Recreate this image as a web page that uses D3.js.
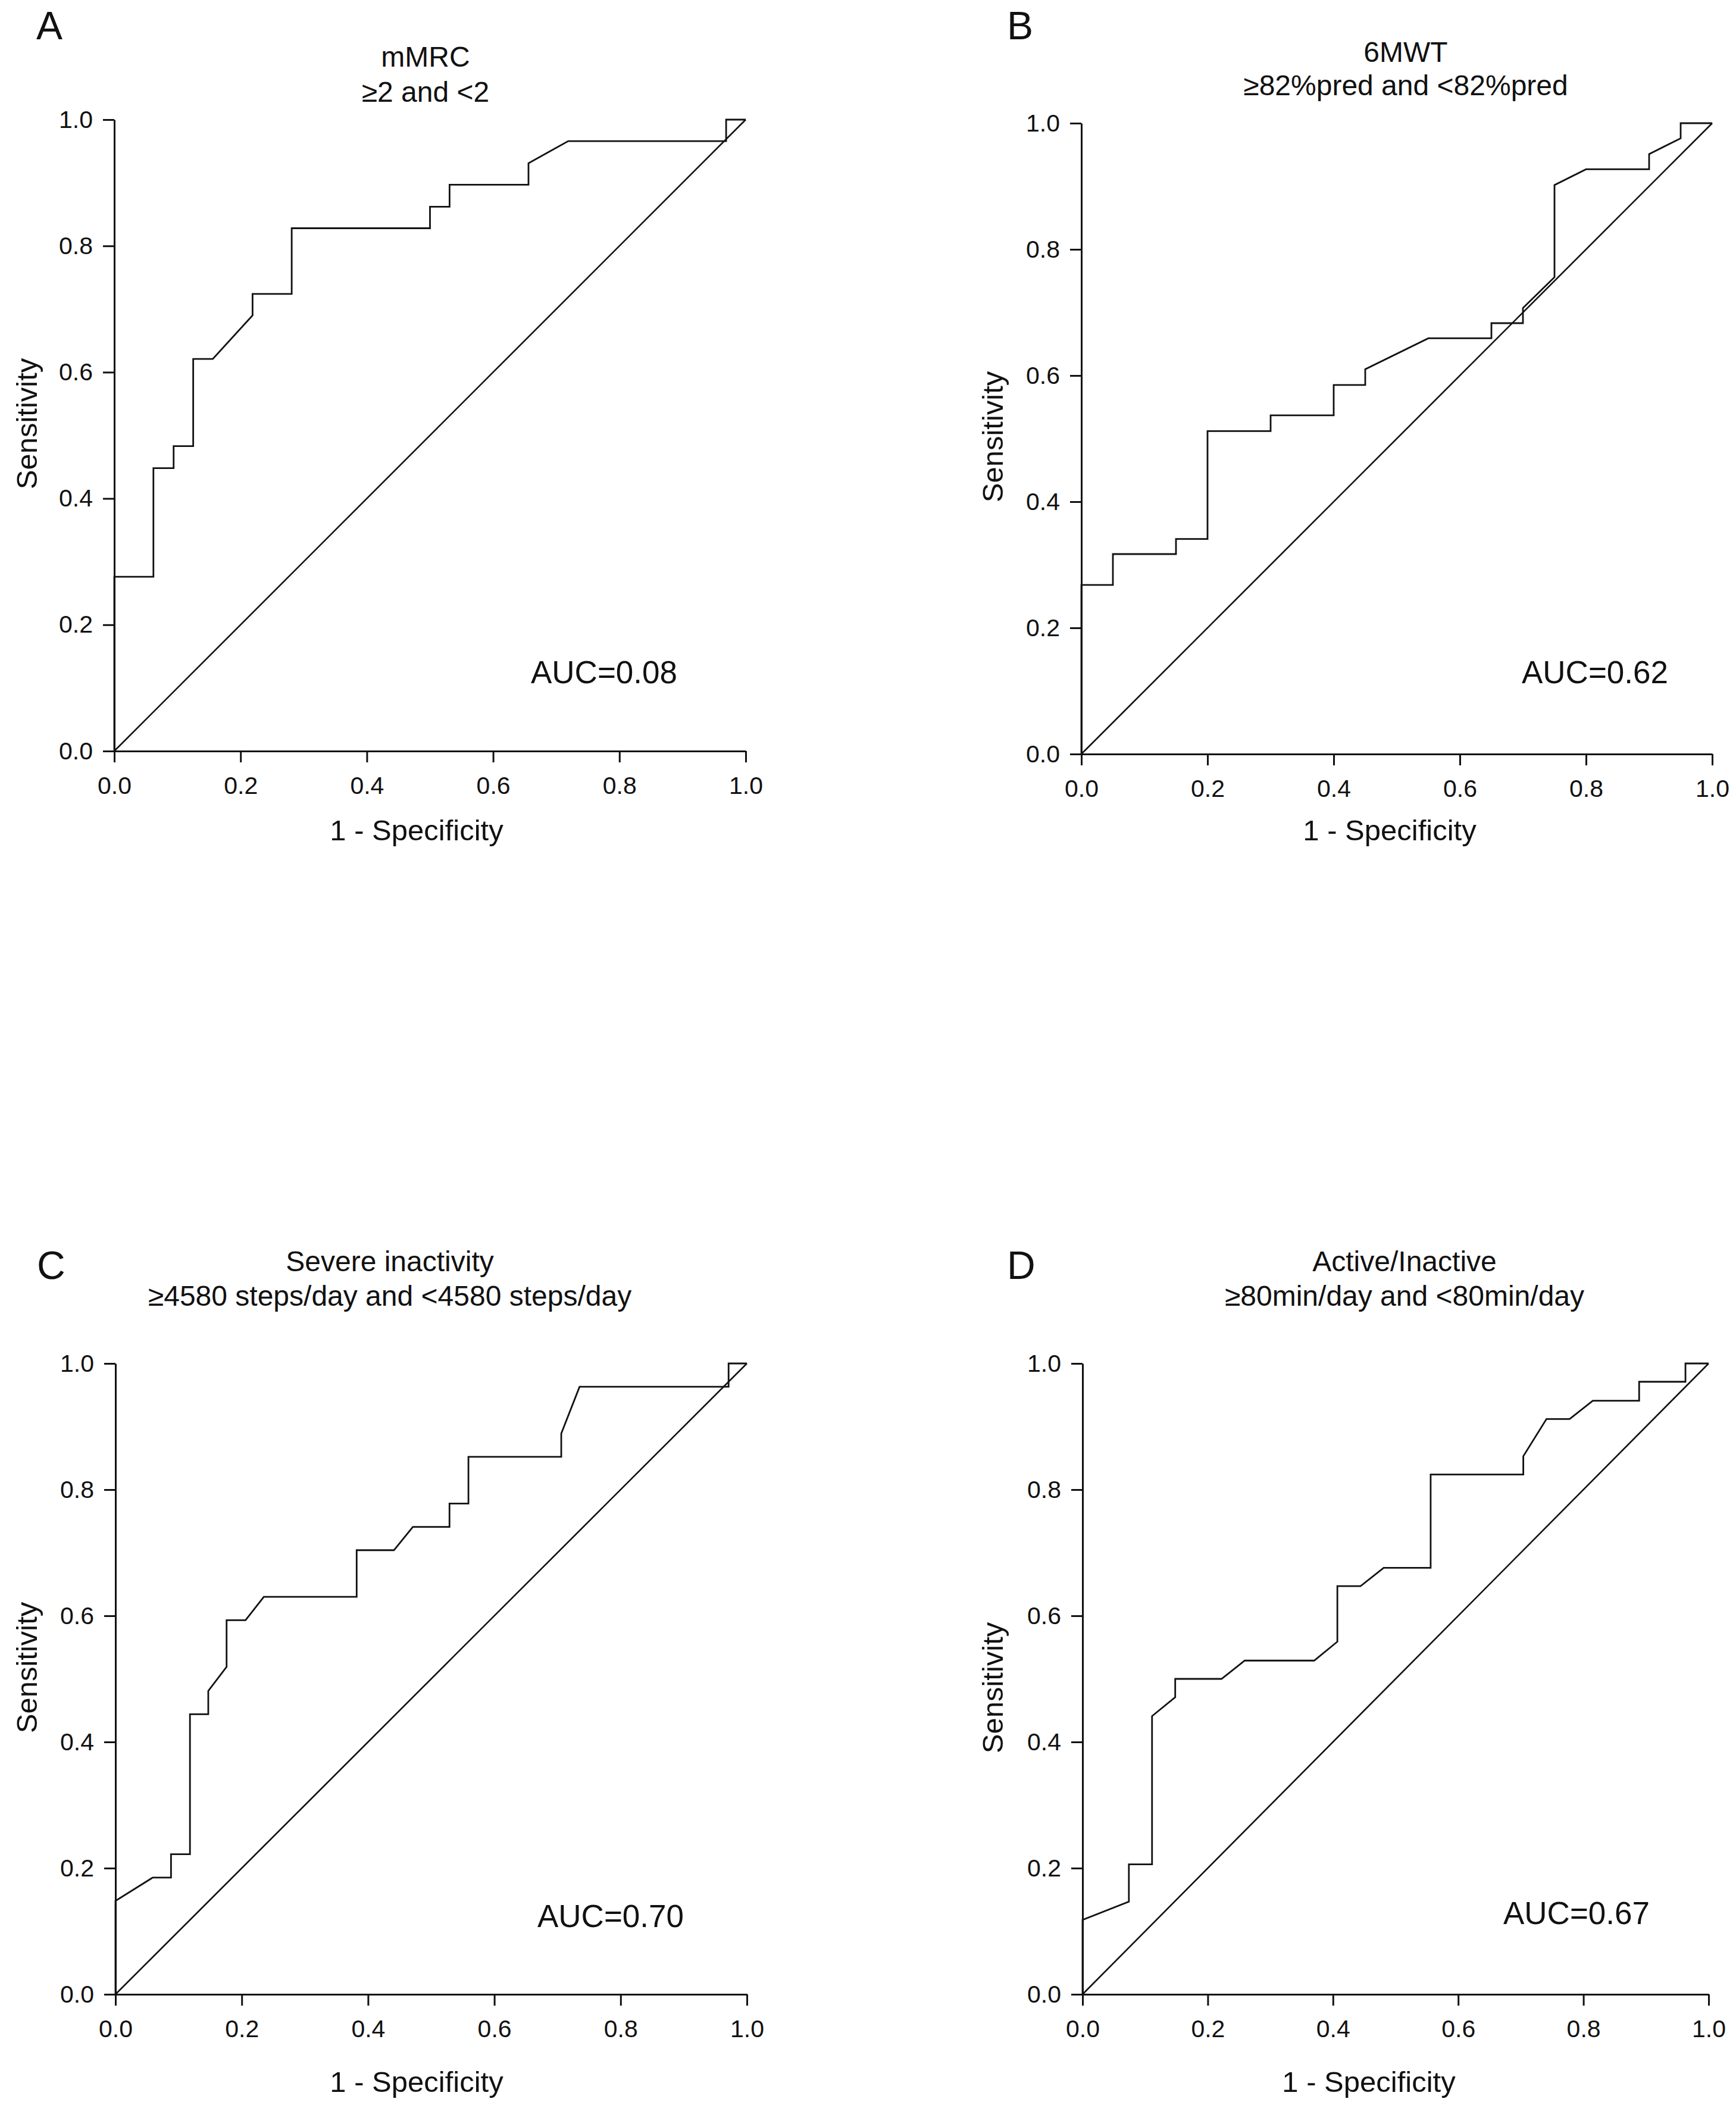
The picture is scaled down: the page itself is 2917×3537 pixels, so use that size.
<!DOCTYPE html>
<html>
<head>
<meta charset="utf-8">
<script src="https://cdn.jsdelivr.net/npm/d3@7"></script>
<style>
  html, body { margin: 0; padding: 0; background: #fff; }
  text { font-family: "Liberation Sans", Arial, sans-serif; fill: #111; }
</style>
</head>
<body>
<div id="chart"></div>
<script>
// ROC curve points (1 - specificity, sensitivity)
const mmrcFpr = [0, 0, 0.062, 0.062, 0.094, 0.094, 0.125, 0.125, 0.156, 0.219, 0.219, 0.281, 0.281, 0.5, 0.5, 0.531, 0.531, 0.656, 0.656, 0.719, 0.969, 0.969, 1];
const mmrcTpr = [0, 0.276, 0.276, 0.448, 0.448, 0.483, 0.483, 0.621, 0.621, 0.690, 0.724, 0.724, 0.828, 0.828, 0.862, 0.862, 0.897, 0.897, 0.931, 0.966, 0.966, 1, 1];

const mwtFpr = [0, 0, 0.05, 0.05, 0.15, 0.15, 0.2, 0.2, 0.3, 0.3, 0.4, 0.4, 0.45, 0.45, 0.55, 0.65, 0.65, 0.7, 0.7, 0.75, 0.75, 0.8, 0.9, 0.9, 0.95, 0.95, 1];
const mwtTpr = [0, 0.268, 0.268, 0.317, 0.317, 0.341, 0.341, 0.512, 0.512, 0.537, 0.537, 0.585, 0.585, 0.61, 0.659, 0.659, 0.683, 0.683, 0.707, 0.756, 0.902, 0.927, 0.927, 0.951, 0.976, 1, 1];

const stepsFpr = [0, 0, 0.059, 0.088, 0.088, 0.118, 0.118, 0.147, 0.147, 0.176, 0.176, 0.206, 0.235, 0.382, 0.382, 0.441, 0.471, 0.529, 0.529, 0.559, 0.559, 0.706, 0.706, 0.735, 0.971, 0.971, 1];
const stepsTpr = [0, 0.148, 0.185, 0.185, 0.222, 0.222, 0.444, 0.444, 0.481, 0.519, 0.593, 0.593, 0.630, 0.630, 0.704, 0.704, 0.741, 0.741, 0.778, 0.778, 0.852, 0.852, 0.889, 0.963, 0.963, 1, 1];

const activeFpr = [0, 0, 0.074, 0.074, 0.111, 0.111, 0.148, 0.148, 0.222, 0.259, 0.370, 0.407, 0.407, 0.444, 0.481, 0.556, 0.556, 0.704, 0.704, 0.741, 0.778, 0.815, 0.889, 0.889, 0.963, 0.963, 1];
const activeTpr = [0, 0.118, 0.147, 0.206, 0.206, 0.441, 0.471, 0.5, 0.5, 0.529, 0.529, 0.559, 0.647, 0.647, 0.676, 0.676, 0.824, 0.824, 0.853, 0.912, 0.912, 0.941, 0.941, 0.971, 0.971, 1, 1];

const panelLetters = ["A", "B", "C", "D"];
const titleLine1 = ["mMRC", "6MWT", "Severe inactivity", "Active/Inactive"];
const titleLine2 = ["\u22652 and <2", "\u226582%pred and <82%pred", "\u22654580 steps/day and <4580 steps/day", "\u226580min/day and <80min/day"];
const aucLabels = ["AUC=0.08", "AUC=0.62", "AUC=0.70", "AUC=0.67"];
const tickValues = [0, 0.2, 0.4, 0.6, 0.8, 1.0];

const seriesX = [mmrcFpr, mwtFpr, stepsFpr, activeFpr];
const seriesY = [mmrcTpr, mwtTpr, stepsTpr, activeTpr];

// layout of each panel (pixels)
const panels = [
  { x0: 192, x1: 1253, top: 201, bot: 1262, letter: [61, 66], title: [715, 112, 171], xlab: [700, 1412], ylab: [45, 712], auc: [1015, 1148] },
  { x0: 1817, x1: 2877, top: 207, bot: 1267, letter: [1692, 66], title: [2362, 104, 160], xlab: [2335, 1412], ylab: [1668, 734], auc: [2680, 1148] },
  { x0: 194, x1: 1255, top: 2291, bot: 3351, letter: [62, 2149], title: [655, 2136, 2194], xlab: [700, 3515], ylab: [45, 2802], auc: [1026, 3238] },
  { x0: 1819, x1: 2871, top: 2291, bot: 3351, letter: [1692, 2149], title: [2360, 2136, 2194], xlab: [2300, 3515], ylab: [1668, 2836], auc: [2649, 3233] }
];

const W = 2917, H = 3537;
const svg = d3.select("#chart").append("svg")
  .attr("width", W)
  .attr("height", H)
  .attr("viewBox", `0 0 ${W} ${H}`);

svg.append("rect").attr("width", W).attr("height", H).attr("fill", "#fff");

panels.forEach((p, i) => drawPanel(p, i));

function drawPanel(p, i) {
  const x = d3.scaleLinear().domain([0, 1]).range([p.x0, p.x1]);
  const y = d3.scaleLinear().domain([0, 1]).range([p.bot, p.top]);
  const g = svg.append("g");

  // axes
  const xAxis = g.append("g")
    .attr("transform", `translate(0,${p.bot})`)
    .call(d3.axisBottom(x).tickValues(tickValues).tickFormat(d3.format(".1f"))
      .tickSize(19).tickSizeOuter(0).tickPadding(24));
  const yAxis = g.append("g")
    .attr("transform", `translate(${p.x0},0)`)
    .call(d3.axisLeft(y).tickValues(tickValues).tickFormat(d3.format(".1f"))
      .tickSize(19).tickSizeOuter(0).tickPadding(17));

  [xAxis, yAxis].forEach(a => {
    a.select(".domain").attr("stroke", "#111").attr("stroke-width", 3);
    a.selectAll(".tick line").attr("stroke", "#111").attr("stroke-width", 3);
    a.selectAll(".tick text")
      .attr("font-size", 41)
      .attr("fill", "#111")
      .style("font-family", "'Liberation Sans', Arial, sans-serif");
  });

  // reference diagonal
  g.append("line")
    .attr("x1", x(0)).attr("y1", y(0))
    .attr("x2", x(1)).attr("y2", y(1))
    .attr("stroke", "#111")
    .attr("stroke-width", 2.6);

  // ROC curve
  const pts = seriesX[i].map((v, k) => [v, seriesY[i][k]]);
  const line = d3.line().x(d => x(d[0])).y(d => y(d[1]));
  g.append("path")
    .datum(pts)
    .attr("d", line)
    .attr("fill", "none")
    .attr("stroke", "#111")
    .attr("stroke-width", 2.8)
    .attr("stroke-linejoin", "miter");

  // texts
  g.append("text")
    .attr("x", p.letter[0]).attr("y", p.letter[1])
    .attr("font-size", 66)
    .text(panelLetters[i]);

  g.append("text")
    .attr("x", p.title[0]).attr("y", p.title[1])
    .attr("text-anchor", "middle")
    .attr("font-size", 48)
    .text(titleLine1[i]);
  g.append("text")
    .attr("x", p.title[0]).attr("y", p.title[2])
    .attr("text-anchor", "middle")
    .attr("font-size", 48)
    .text(titleLine2[i]);

  g.append("text")
    .attr("x", p.xlab[0]).attr("y", p.xlab[1])
    .attr("text-anchor", "middle")
    .attr("font-size", 49)
    .text("1 - Specificity");

  g.append("text")
    .attr("transform", `translate(${p.ylab[0]},${p.ylab[1]}) rotate(-90)`)
    .attr("text-anchor", "middle")
    .attr("dominant-baseline", "central")
    .attr("font-size", 49)
    .text("Sensitivity");

  g.append("text")
    .attr("x", p.auc[0]).attr("y", p.auc[1])
    .attr("text-anchor", "middle")
    .attr("font-size", 53)
    .text(aucLabels[i]);
}
</script>
</body>
</html>
